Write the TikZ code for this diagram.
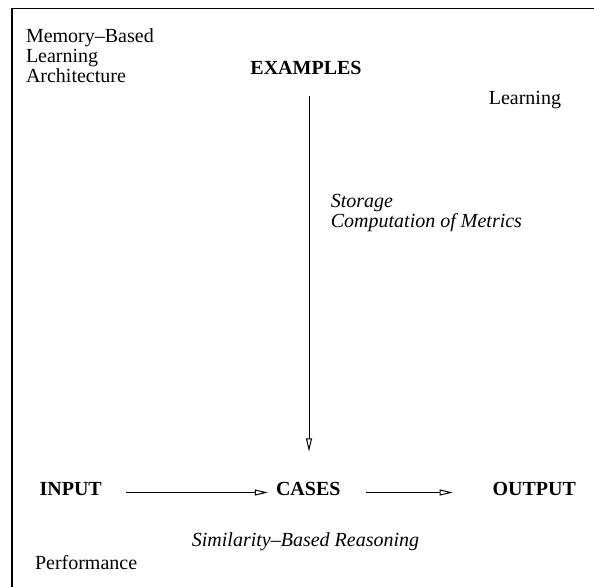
\documentclass[tikz,border=0pt]{standalone}
\usepackage{fontspec}
\setmainfont{Liberation Serif}
\usetikzlibrary{positioning,arrows.meta}

\begin{document}
\begin{tikzpicture}[x=1pt, y=-1pt,
    every node/.style={inner sep=0pt, font=\fontsize{20}{20}\selectfont},
    stage/.style={font=\fontsize{20}{20}\selectfont\bfseries},
    note/.style={align=left, anchor=north west},
    task/.style={font=\fontsize{20}{20}\selectfont\itshape},
    flow/.style={-{Triangle[open, length=13pt, width=6pt]}, line width=1pt}]

    \useasboundingbox (0,0) rectangle (594,586);
    \draw[line width=1.4pt] (12,604) |- (612,8.5);

    \node[note] (title) at (25.8,28.4) {Memory--Based\\Learning\\Architecture};
    \node[stage, anchor=base] (examples) at (306,74.7) {EXAMPLES};
    \node[anchor=base west] (learn) at (488.6,104) {Learning};
    \node[task, note] (store) at (330.7,193.6) {Storage\\Computation of Metrics};

    \node[stage, anchor=base west] (input) at (39.4,495.5) {INPUT};
    \node[stage, anchor=base west] (cases) at (275.8,495.5) {CASES};
    \node[stage, anchor=base west] (output) at (492.4,495.5) {OUTPUT};

    \node[task, anchor=base] (reason) at (305.5,546.3) {Similarity--Based Reasoning};
    \node[anchor=base west] (perform) at (34.8,569.9) {Performance};

    \path[flow]
        ([xshift=3pt]examples.south) edge[shorten <=20.6pt, shorten >=30.6pt]
            ([xshift=3pt]examples.south |- cases.north)
        ([yshift=3pt]input.base east) edge[shorten <=23.8pt, shorten >=8pt]
            ([yshift=3pt]cases.base west)
        ([yshift=3pt]cases.base east) edge[shorten <=25.8pt, shorten >=39.7pt]
            ([yshift=3pt]output.base west);

\end{tikzpicture}
\end{document}
